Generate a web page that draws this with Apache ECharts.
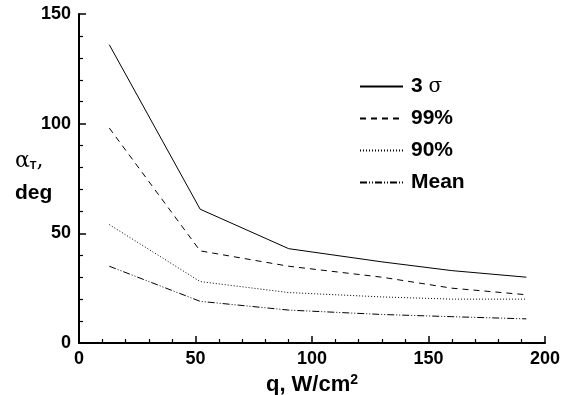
<!DOCTYPE html>
<html>
<head>
<meta charset="utf-8">
<script src="https://cdn.jsdelivr.net/npm/echarts@6/dist/echarts.min.js"></script>
<style>
  html, body { margin: 0; padding: 0; background: #fff; }
  #chart { width: 568px; height: 395px; }
</style>
</head>
<body>
<div id="chart"></div>
<script>
// Heat flux values, q (W/cm^2)
const fluxValues = [13, 52, 90, 130, 160, 192];

// Angle alpha_T (deg) for each statistical level
const sigma3 = [136, 61, 43, 37, 33, 30];
const pct99 = [98, 42, 35, 30, 25, 22];
const pct90 = [54, 28, 23, 21, 20, 20];
const meanVals = [35, 19, 15, 13, 12, 11];

const seriesNames = ['3 σ', '99%', '90%', 'Mean'];

const xTicks = [0, 50, 100, 150, 200];
const yTicks = [0, 50, 100, 150];

const FONT = '"Liberation Sans", Arial, sans-serif';
const GREEK = '"DejaVu Serif", serif';

function pairs(ys) {
  return fluxValues.map((x, i) => [x, ys[i]]);
}

function lineSeries(name, ys, type) {
  return {
    name: name,
    type: 'line',
    data: pairs(ys),
    symbol: 'none',
    silent: true,
    lineStyle: { color: '#000', width: 1, type: type },
    itemStyle: { color: '#000' }
  };
}

const chart = echarts.init(document.getElementById('chart'), null, { renderer: 'canvas' });

chart.setOption({
  animation: false,
  backgroundColor: '#fff',
  grid: { left: 79, right: 23, top: 14, bottom: 52, outerBoundsMode: 'none' },
  legend: {
    orient: 'vertical',
    left: 354,
    top: 71,
    itemWidth: 43,
    itemHeight: 14,
    itemGap: 11,
    data: seriesNames,
    itemStyle: { opacity: 0 },
    formatter: function (n) {
      if (n === '3 σ') return '{b|3 }{s|σ}';
      return '{b|' + n + '}';
    },
    textStyle: {
      padding: [0, 0, 0, 3],
      rich: {
        b: { fontFamily: FONT, fontWeight: 'bold', fontSize: 21, lineHeight: 22, color: '#000' },
        s: { fontFamily: GREEK, fontSize: 20, lineHeight: 22, color: '#000' }
      }
    }
  },
  graphic: [{
    type: 'text',
    left: 15,
    top: 150,
    silent: true,
    style: {
      text: '{g|α}{sub|T}{g|,}\n{d|deg}',
      rich: {
        g: { fontFamily: GREEK, fontSize: 22, lineHeight: 27, fill: '#000' },
        sub: { fontFamily: FONT, fontWeight: 'bold', fontSize: 11, lineHeight: 27, fill: '#000', padding: [9, 0, 0, 0] },
        d: { fontFamily: FONT, fontWeight: 'bold', fontSize: 21, lineHeight: 38, fill: '#000' }
      }
    }
  }],
  xAxis: {
    type: 'value',
    min: xTicks[0],
    max: xTicks[xTicks.length - 1],
    interval: 50,
    splitLine: { show: false },
    axisLine: { lineStyle: { color: '#000', width: 2 } },
    axisTick: { inside: true, length: 7, lineStyle: { color: '#000', width: 1.5 } },
    minorTick: { show: true, splitNumber: 5, length: 4, lineStyle: { color: '#000', width: 1.2 } },
    axisLabel: { color: '#000', fontFamily: FONT, fontWeight: 'bold', fontSize: 18, margin: 7 },
    name: '{a|q, W/cm}{sup|2}',
    nameLocation: 'middle',
    nameGap: 16,
    nameTextStyle: {
      rich: {
        a: { fontFamily: FONT, fontWeight: 'bold', fontSize: 22, color: '#000' },
        sup: { fontFamily: FONT, fontWeight: 'bold', fontSize: 14, color: '#000', verticalAlign: 'top', padding: [0, 0, 10, 0] }
      }
    }
  },
  yAxis: {
    type: 'value',
    min: yTicks[0],
    max: yTicks[yTicks.length - 1],
    interval: 50,
    splitLine: { show: false },
    axisLine: { lineStyle: { color: '#000', width: 2 } },
    axisTick: { inside: true, length: 7, lineStyle: { color: '#000', width: 1.5 } },
    minorTick: { show: true, splitNumber: 5, length: 4, lineStyle: { color: '#000', width: 1.2 } },
    axisLabel: { color: '#000', fontFamily: FONT, fontWeight: 'bold', fontSize: 18, margin: 8 }
  },
  series: [
    lineSeries(seriesNames[0], sigma3, 'solid'),
    lineSeries(seriesNames[1], pct99, [6, 5]),
    lineSeries(seriesNames[2], pct90, [1, 2]),
    lineSeries(seriesNames[3], meanVals, [7, 2, 1, 2, 1, 2])
  ]
});
</script>
</body>
</html>
